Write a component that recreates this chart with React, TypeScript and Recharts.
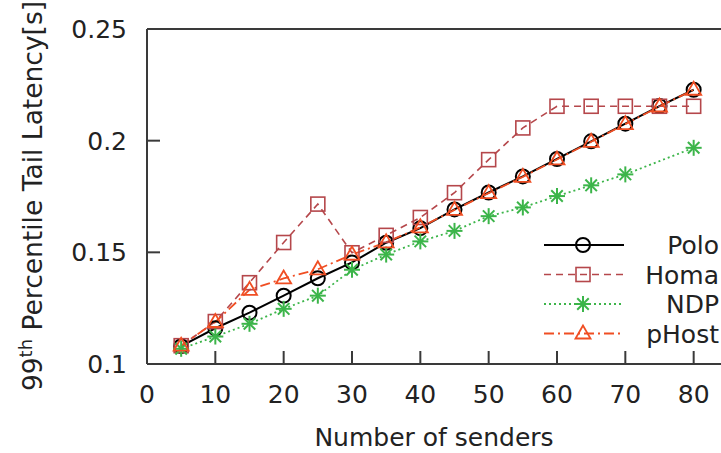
import React from "react";
import { LineChart, Line, XAxis, YAxis, ReferenceLine } from "recharts";

const senders = [5, 10, 15, 20, 25, 30, 35, 40, 45, 50, 55, 60, 65, 70, 75, 80];
const polo = [0.108, 0.116, 0.123, 0.1306, 0.1384, 0.1455, 0.1543, 0.1608, 0.1692, 0.1768, 0.184, 0.1918, 0.1997, 0.2076, 0.2155, 0.2228];
const homa = [0.1082, 0.119, 0.1364, 0.1544, 0.1716, 0.1498, 0.1576, 0.1656, 0.1767, 0.1915, 0.2057, 0.2154, 0.2154, 0.2154, 0.2154, 0.2154];
const ndp = [0.1068, 0.1123, 0.118, 0.1247, 0.1306, 0.1422, 0.149, 0.1549, 0.1596, 0.1662, 0.1701, 0.1752, 0.18, 0.1849, null, 0.1968];
const phost = [0.1082, 0.1188, 0.1332, 0.1383, 0.1424, 0.149, 0.1545, 0.1612, 0.169, 0.1765, 0.1838, 0.1916, 0.1995, 0.2074, 0.2153, 0.2228];

const xTicks = [0, 10, 20, 30, 40, 50, 60, 70, 80];
const yTicks = [0.1, 0.15, 0.2, 0.25];

const data = senders.map((s, i) => ({
  senders: s,
  Polo: polo[i],
  Homa: homa[i],
  NDP: ndp[i],
  pHost: phost[i],
}));

const FONT = "DejaVu Sans";
const FS = 25;
const TEXT = "#222";
const AXIS = "#3a3a3a";

type Kind = "circle" | "square" | "star" | "triangle";

const seriesStyle: { key: string; color: string; dash?: string; width: number; kind: Kind }[] = [
  { key: "Polo", color: "#000000", width: 2, kind: "circle" },
  { key: "Homa", color: "#b5474b", dash: "7 5", width: 1.6, kind: "square" },
  { key: "NDP", color: "#3cb54a", dash: "2 3", width: 1.8, kind: "star" },
  { key: "pHost", color: "#f04e23", dash: "10 4 2 4", width: 1.8, kind: "triangle" },
];

function Marker({ cx, cy, kind, color }: { cx: number; cy: number; kind: Kind; color: string }) {
  if (kind === "circle") return <circle cx={cx} cy={cy} r={7} fill="none" stroke={color} strokeWidth={2} />;
  if (kind === "square")
    return <rect x={cx - 7} y={cy - 7} width={14} height={14} fill="none" stroke={color} strokeWidth={1.6} />;
  if (kind === "triangle")
    return (
      <polygon
        points={`${cx},${cy - 8} ${cx - 7.5},${cy + 5} ${cx + 7.5},${cy + 5}`}
        fill="none"
        stroke={color}
        strokeWidth={1.8}
      />
    );
  const r = 8;
  const d = r * 0.72;
  return (
    <g stroke={color} strokeWidth={2}>
      <line x1={cx - r} y1={cy} x2={cx + r} y2={cy} />
      <line x1={cx} y1={cy - r} x2={cx} y2={cy + r} />
      <line x1={cx - d} y1={cy - d} x2={cx + d} y2={cy + d} />
      <line x1={cx - d} y1={cy + d} x2={cx + d} y2={cy - d} />
    </g>
  );
}

function XTick(props: any) {
  const { x, y, payload } = props;
  return (
    <g>
      {payload.value !== 0 && <line x1={x} y1={y} x2={x} y2={y - 13} stroke={AXIS} strokeWidth={2} />}
      <text x={x} y={y + 39} textAnchor="middle" fontFamily={FONT} fontSize={FS} fill={TEXT}>
        {payload.value}
      </text>
    </g>
  );
}

function YTick(props: any) {
  const { x, y, payload } = props;
  return (
    <g>
      <line x1={x} y1={y} x2={x + 13} y2={y} stroke={AXIS} strokeWidth={2} />
      <text x={x - 20} y={y + 9} textAnchor="end" fontFamily={FONT} fontSize={FS} fill={TEXT}>
        {String(payload.value)}
      </text>
    </g>
  );
}

function LegendBox() {
  return (
    <svg width={191} height={125} style={{ position: "absolute", left: 530, top: 230 }}>
      {seriesStyle.map((s, i) => {
        const y = 15 + i * 29.5;
        return (
          <g key={s.key}>
            <line x1={14} y1={y} x2={94} y2={y} stroke={s.color} strokeWidth={s.width} strokeDasharray={s.dash} />
            <Marker cx={53} cy={y} kind={s.kind} color={s.color} />
            <text x={189} y={y + 9} textAnchor="end" fontFamily={FONT} fontSize={FS} fill={TEXT}>
              {s.key}
            </text>
          </g>
        );
      })}
    </svg>
  );
}

export default function App() {
  return (
    <div style={{ position: "fixed", left: 0, top: 0, width: 721, height: 453, background: "#fff", overflow: "hidden" }}>
      <LineChart width={721} height={453} data={data} margin={{ top: 29, right: 0, bottom: 0, left: 0 }}>
        <XAxis
          dataKey="senders"
          type="number"
          domain={[0, 84]}
          ticks={xTicks}
          interval={0}
          tickSize={0}
          tickMargin={0}
          tickLine={false}
          tick={<XTick />}
          axisLine={{ stroke: AXIS, strokeWidth: 2 }}
          height={89}
          label={{
            value: "Number of senders",
            position: "insideBottom",
            offset: 7,
            style: { fontFamily: FONT, fontSize: FS, fill: TEXT },
          }}
        />
        <YAxis
          type="number"
          domain={[0.1, 0.25]}
          ticks={yTicks}
          interval={0}
          tickSize={0}
          tickMargin={0}
          tickLine={false}
          tick={<YTick />}
          width={147}
          axisLine={{ stroke: AXIS, strokeWidth: 2 }}
          label={{
            content: () => (
              <text
                transform="translate(42,196) rotate(-90)"
                textAnchor="middle"
                fontFamily={FONT}
                fontSize={26.5}
                fill={TEXT}
              >
                99<tspan fontSize={18} dy={-10}>th</tspan>
                <tspan dy={10}> Percentile Tail Latency[s]</tspan>
              </text>
            ),
          }}
        />
        <ReferenceLine y={0.25} stroke={AXIS} strokeWidth={2} ifOverflow="visible" />
        {seriesStyle.map((s) => (
          <Line
            key={s.key}
            dataKey={s.key}
            type="linear"
            stroke={s.color}
            strokeWidth={s.width}
            strokeDasharray={s.dash}
            connectNulls
            isAnimationActive={false}
            legendType="none"
            dot={(p: any) =>
              p.cx == null || p.cy == null || p.value == null ? (
                <g key={`${s.key}-${p.index}`} />
              ) : (
                <g key={`${s.key}-${p.index}`}>
                  <Marker cx={p.cx} cy={p.cy} kind={s.kind} color={s.color} />
                </g>
              )
            }
            activeDot={false}
          />
        ))}
      </LineChart>
      <LegendBox />
    </div>
  );
}
